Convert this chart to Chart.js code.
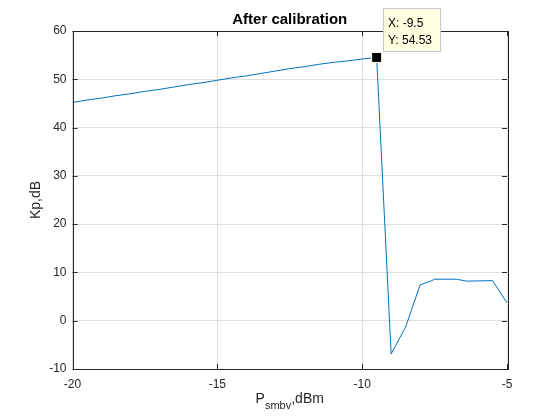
<!DOCTYPE html>
<html>
<head>
<meta charset="utf-8">
<script src="https://cdn.jsdelivr.net/npm/chart.js@4/dist/chart.umd.min.js"></script>
<style>
  body { margin: 0; background: #fff; }
  #wrap { width: 560px; height: 420px; }
</style>
</head>
<body>
<div id="wrap"><canvas id="chart" width="560" height="420"></canvas></div>
<script>
// P_smbv in dBm
var pSmbv = [-20, -19.5, -19, -18.5, -18, -17.5, -17, -16.5, -16, -15.5, -15,
    -14.5, -14, -13.5, -13, -12.5, -12, -11.5, -11, -10.5, -10, -9.5,
    -9, -8.5, -8, -7.6, -7.5, -6.75, -6.4, -5.5, -5];
// Kp in dB
var kp = [45.2, 45.7, 46.1, 46.6, 47.0, 47.5, 47.9, 48.4, 48.9, 49.3, 49.8,
    50.3, 50.7, 51.2, 51.7, 52.2, 52.6, 53.1, 53.5, 53.8, 54.2, 54.53,
    -6.9, -1.3, 7.4, 8.3, 8.6, 8.6, 8.2, 8.3, 3.7];
var xTicks = [-20, -15, -10, -5];
var yTicks = [-10, 0, 10, 20, 30, 40, 50, 60];
var tipX = -9.5;
var tipY = 54.53;

var FONT = 'Helvetica, Arial, "Liberation Sans", sans-serif';
var AXIS_COLOR = '#262626';

var points = [];
for (var i = 0; i < pSmbv.length; i++) {
    points.push({ x: pSmbv[i], y: kp[i] });
}

// box, inward ticks, title, labels and the data tip (MATLAB look)
var matlabDecor = {
    id: 'matlabDecor',
    afterDraw: function(chart) {
        var ctx = chart.ctx;
        var a = chart.chartArea;
        var xs = chart.scales.x;
        var ys = chart.scales.y;
        ctx.save();

        ctx.strokeStyle = AXIS_COLOR;
        ctx.lineWidth = 1;
        ctx.strokeRect(Math.round(a.left) + 0.5, Math.round(a.top) + 0.5,
            Math.round(a.right - a.left), Math.round(a.bottom - a.top));

        var t = 5;
        ctx.beginPath();
        xTicks.forEach(function(v) {
            var px = Math.round(xs.getPixelForValue(v)) + 0.5;
            ctx.moveTo(px, a.bottom); ctx.lineTo(px, a.bottom - t);
            ctx.moveTo(px, a.top); ctx.lineTo(px, a.top + t);
        });
        yTicks.forEach(function(v) {
            var py = Math.round(ys.getPixelForValue(v)) + 0.5;
            ctx.moveTo(a.left, py); ctx.lineTo(a.left + t, py);
            ctx.moveTo(a.right, py); ctx.lineTo(a.right - t, py);
        });
        ctx.stroke();

        var cx = (a.left + a.right) / 2;
        var cy = (a.top + a.bottom) / 2;

        // title
        ctx.fillStyle = '#000';
        ctx.font = 'bold 15px ' + FONT;
        ctx.textAlign = 'center';
        ctx.textBaseline = 'alphabetic';
        ctx.fillText('After calibration', cx, 24);

        // x label with subscript
        ctx.fillStyle = AXIS_COLOR;
        ctx.textAlign = 'left';
        var big = '14px ' + FONT, small = '11px ' + FONT;
        ctx.font = big; var w1 = ctx.measureText('P').width;
        ctx.font = small; var w2 = ctx.measureText('smbv').width;
        ctx.font = big; var w3 = ctx.measureText(',dBm').width;
        var sx = cx - (w1 + w2 + w3) / 2;
        ctx.font = big; ctx.fillText('P', sx, 403);
        ctx.font = small; ctx.fillText('smbv', sx + w1, 409);
        ctx.font = big; ctx.fillText(',dBm', sx + w1 + w2, 403);

        // y label
        ctx.save();
        ctx.translate(40, cy);
        ctx.rotate(-Math.PI / 2);
        ctx.textAlign = 'center';
        ctx.font = big;
        ctx.fillText('Kp,dB', 0, 0);
        ctx.restore();

        // data tip
        var mx = xs.getPixelForValue(tipX);
        var my = ys.getPixelForValue(tipY);
        ctx.fillStyle = '#000';
        ctx.strokeStyle = '#ffffe1';
        ctx.fillRect(mx - 5, my - 5, 10, 10);
        ctx.strokeRect(mx - 5, my - 5, 10, 10);

        var bx = Math.round(mx + 6) + 0.5, by = 8.5, bw = 57, bh = 43;
        ctx.fillStyle = '#ffffe1';
        ctx.fillRect(bx, by, bw, bh);
        ctx.strokeStyle = '#c8c8c8';
        ctx.strokeRect(bx, by, bw, bh);
        ctx.fillStyle = '#000';
        ctx.font = '12px ' + FONT;
        ctx.textAlign = 'left';
        ctx.fillText('X: ' + tipX, bx + 4.5, 27);
        ctx.fillText('Y: ' + tipY, bx + 4.5, 44);

        ctx.restore();
    }
};

var ctx = document.getElementById('chart').getContext('2d');
var chart = new Chart(ctx, {
    type: 'scatter',
    data: {
        datasets: [{
            data: points,
            showLine: true,
            borderColor: '#0072BD',
            borderWidth: 1,
            pointRadius: 0,
            fill: false
        }]
    },
    options: {
        responsive: false,
        animation: false,
        layout: { padding: { left: 0, right: 53, top: 31, bottom: 0 } },
        plugins: {
            legend: { display: false },
            tooltip: { enabled: false },
            title: { display: false }
        },
        scales: {
            x: {
                type: 'linear',
                min: -20,
                max: -5,
                afterBuildTicks: function(scale) {
                    scale.ticks = xTicks.map(function(v) { return { value: v }; });
                },
                afterFit: function(scale) { scale.height = 51; },
                grid: { color: '#dfdfdf', drawTicks: false },
                border: { display: false },
                ticks: {
                    color: AXIS_COLOR,
                    padding: 8,
                    maxRotation: 0,
                    font: { family: FONT, size: 12 }
                }
            },
            y: {
                type: 'linear',
                min: -10,
                max: 60,
                afterBuildTicks: function(scale) {
                    scale.ticks = yTicks.map(function(v) { return { value: v }; });
                },
                afterFit: function(scale) { scale.width = 72.5; },
                grid: { color: '#dfdfdf', drawTicks: false },
                border: { display: false },
                ticks: {
                    color: AXIS_COLOR,
                    padding: 6,
                    font: { family: FONT, size: 12 }
                }
            }
        }
    },
    plugins: [matlabDecor]
});
</script>
</body>
</html>
